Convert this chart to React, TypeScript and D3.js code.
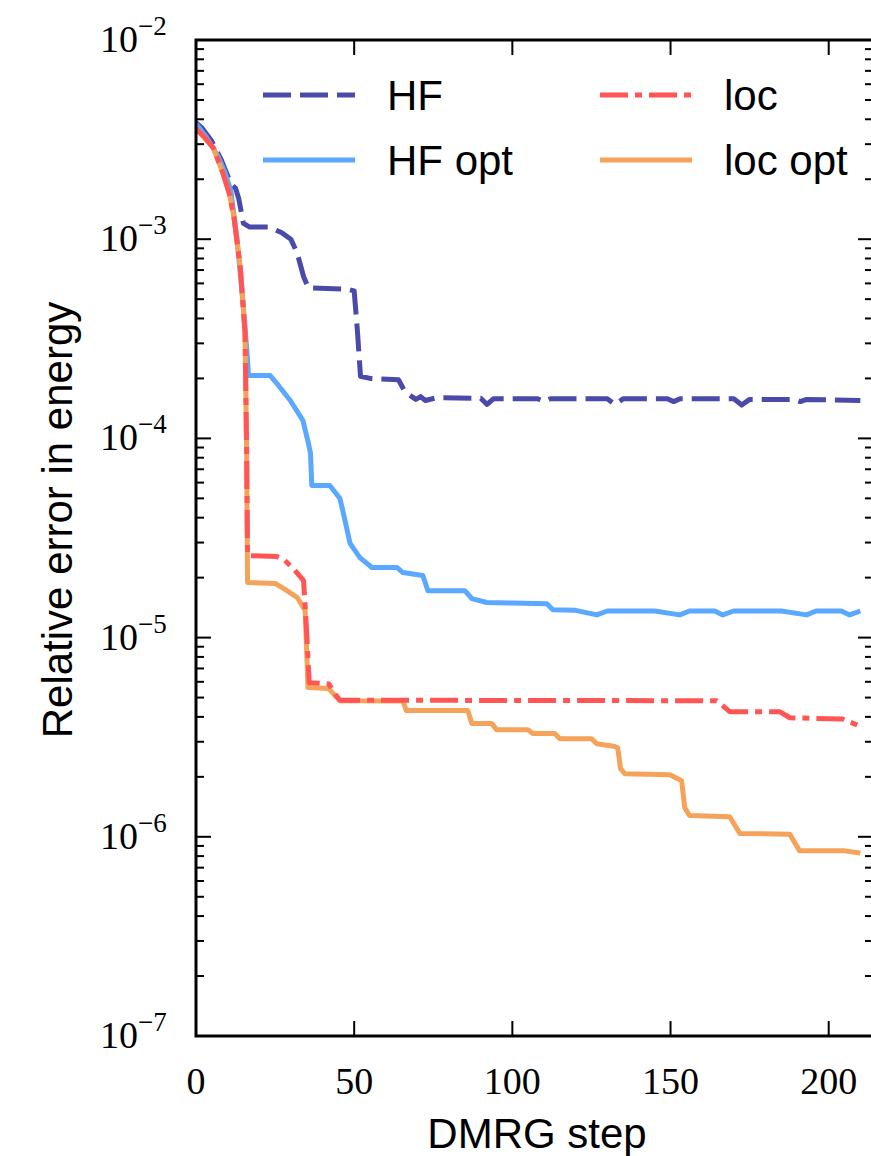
import React from 'react';
import * as d3 from 'd3';

// x range of the figure (right spine is cut off in the picture)
const xMax = 214;

// HF (dashed)
const hfStep = [0, 2, 5, 8, 11, 12.5, 13.5, 15, 17, 23, 27, 30, 32, 34, 35.5, 48, 50, 51, 52, 55, 64, 66, 68, 69.5, 71, 72.5, 76, 90, 92, 94, 108, 110, 112, 130, 132.4, 135, 149, 151, 153, 170, 172.5, 175, 189, 191, 193, 210];
const hfErr = [3.85e-3, 3.6e-3, 3.1e-3, 2.5e-3, 1.9e-3, 1.8e-3, 1.6e-3, 1.2e-3, 1.15e-3, 1.15e-3, 1.08e-3, 1.0e-3, 8.5e-4, 6.5e-4, 5.7e-4, 5.6e-4, 5.5e-4, 3.5e-4, 2.05e-4, 2.0e-4, 1.97e-4, 1.72e-4, 1.63e-4, 1.57e-4, 1.62e-4, 1.55e-4, 1.6e-4, 1.59e-4, 1.48e-4, 1.58e-4, 1.58e-4, 1.53e-4, 1.58e-4, 1.58e-4, 1.48e-4, 1.58e-4, 1.58e-4, 1.53e-4, 1.58e-4, 1.58e-4, 1.47e-4, 1.57e-4, 1.57e-4, 1.53e-4, 1.57e-4, 1.55e-4];

// HF opt (solid light blue)
const hfOptStep = [0, 3, 6.8, 9, 11, 13, 14.8, 16.2, 16.6, 23.4, 26, 29.8, 33.8, 35.5, 36.2, 36.6, 42.3, 45.5, 47.1, 48.7, 51.8, 55.6, 63.5, 65.4, 71.7, 73.3, 85, 87.2, 91.9, 100, 110.9, 112.8, 120, 126.7, 130, 145, 152.9, 156, 164, 166.5, 170, 185, 193, 196, 204, 206.6, 210];
const hfOptErr = [3.8e-3, 3.3e-3, 2.64e-3, 2.2e-3, 1.76e-3, 9.9e-4, 4.93e-4, 2.6e-4, 2.07e-4, 2.07e-4, 1.85e-4, 1.55e-4, 1.23e-4, 9.5e-5, 8.4e-5, 5.8e-5, 5.8e-5, 4.99e-5, 3.87e-5, 2.97e-5, 2.52e-5, 2.25e-5, 2.25e-5, 2.12e-5, 2.05e-5, 1.72e-5, 1.72e-5, 1.57e-5, 1.5e-5, 1.49e-5, 1.48e-5, 1.38e-5, 1.37e-5, 1.3e-5, 1.36e-5, 1.36e-5, 1.3e-5, 1.36e-5, 1.36e-5, 1.3e-5, 1.36e-5, 1.36e-5, 1.3e-5, 1.36e-5, 1.36e-5, 1.3e-5, 1.36e-5];

// loc (dash-dot red)
const locStep = [0, 3, 5.5, 8.5, 10.5, 12, 14, 15.5, 16, 16.3, 25.6, 28, 31, 34, 34.8, 35.8, 42, 44, 45.5, 164.6, 168.7, 184.5, 187.7, 204.4, 209.8];
const locErr = [3.6e-3, 3.2e-3, 2.87e-3, 2.15e-3, 1.7e-3, 1.29e-3, 7.2e-4, 3.4e-4, 8.7e-5, 2.58e-5, 2.55e-5, 2.45e-5, 2.2e-5, 1.93e-5, 1.2e-5, 5.94e-6, 5.85e-6, 5.2e-6, 4.85e-6, 4.82e-6, 4.25e-6, 4.25e-6, 3.96e-6, 3.9e-6, 3.6e-6];

// loc opt (solid orange)
const locOptStep = [0, 3, 5.5, 8.5, 10.5, 12, 14, 15.5, 16, 16.3, 25, 28, 32, 34.5, 35.4, 42, 44, 45.5, 65.4, 66.5, 85.9, 87.2, 93.5, 95, 104.9, 106.5, 113.4, 115, 125, 126.7, 132, 133.3, 134.2, 135.6, 149.8, 153.5, 154.5, 156, 168.7, 171.9, 187.7, 190.8, 205, 210];
const locOptErr = [3.6e-3, 3.2e-3, 2.87e-3, 2.15e-3, 1.7e-3, 1.29e-3, 7.2e-4, 3.4e-4, 8.7e-5, 1.89e-5, 1.87e-5, 1.75e-5, 1.59e-5, 1.37e-5, 5.61e-6, 5.55e-6, 5.1e-6, 4.82e-6, 4.8e-6, 4.3e-6, 4.3e-6, 3.7e-6, 3.7e-6, 3.45e-6, 3.45e-6, 3.3e-6, 3.3e-6, 3.11e-6, 3.11e-6, 2.93e-6, 2.85e-6, 2.8e-6, 2.2e-6, 2.07e-6, 2.05e-6, 1.91e-6, 1.4e-6, 1.28e-6, 1.26e-6, 1.04e-6, 1.03e-6, 8.5e-7, 8.5e-7, 8.3e-7];

const xTicks = [0, 50, 100, 150, 200];
const yDecades = [-7, -6, -5, -4, -3, -2];

const seriesNames = ['HF', 'HF opt', 'loc', 'loc opt'];
const seriesColors = ['#4a4aab', '#5aa8ff', '#ff5555', '#f5a25a'];
const seriesDash = ['28 9', null, '28 7 7 7', null];

const left = 196, right = 873, top = 40, bottom = 1036;

export default function App() {
  const x = d3.scaleLinear().domain([0, xMax]).range([left, right]);
  const y = d3.scaleLog().domain([1e-7, 1e-2]).range([bottom, top]);

  const line = d3.line<[number, number]>()
    .x(d => x(d[0]))
    .y(d => y(d[1]));

  const series = [
    d3.zip(hfStep, hfErr),
    d3.zip(hfOptStep, hfOptErr),
    d3.zip(locStep, locErr),
    d3.zip(locOptStep, locOptErr),
  ];
  const drawOrder = [0, 1, 3, 2];

  const yTicks = y.ticks();
  const isMajor = (v: number) => Math.abs(Math.log10(v) - Math.round(Math.log10(v))) < 1e-6;

  const sans = '"Liberation Sans", Arial, sans-serif';
  const serif = '"Liberation Serif", "Times New Roman", serif';

  return (
    <svg width={871} height={1156} style={{ position: 'absolute', left: 0, top: 0, background: '#fff' }}>
      <defs>
        <clipPath id="plotclip">
          <rect x={left} y={top} width={right - left} height={bottom - top} />
        </clipPath>
      </defs>

      <g clipPath="url(#plotclip)">
        {drawOrder.map(i => (
          <path key={i} d={line(series[i] as [number, number][]) || ''} fill="none"
            stroke={seriesColors[i]} strokeWidth={5}
            strokeDasharray={seriesDash[i] || undefined}
            strokeLinejoin="round" />
        ))}
      </g>

      {/* y ticks, left and right, pointing inward */}
      {yTicks.map((t, i) => {
        const len = isMajor(t) ? 15 : 8;
        return (
          <g key={'yt' + i} stroke="#000" strokeWidth={2}>
            <line x1={left} x2={left + len} y1={y(t)} y2={y(t)} />
            <line x1={right} x2={right - len} y1={y(t)} y2={y(t)} />
          </g>
        );
      })}

      {/* x ticks, bottom and top */}
      {xTicks.map(t => (
        <g key={'xt' + t} stroke="#000" strokeWidth={2}>
          <line x1={x(t)} x2={x(t)} y1={bottom} y2={bottom - 15} />
          <line x1={x(t)} x2={x(t)} y1={top} y2={top + 15} />
        </g>
      ))}

      <rect x={left} y={top} width={right - left} height={bottom - top} fill="none" stroke="#000" strokeWidth={3} />

      {/* y tick labels */}
      {yDecades.map(p => (
        <text key={'yl' + p} x={100} y={y(Math.pow(10, p)) + 12} fontFamily={serif} fontSize={38} fill="#000">
          10
          <tspan dy={-17} fontSize={27}>{'\u2212' + Math.abs(p)}</tspan>
        </text>
      ))}

      {/* x tick labels */}
      {xTicks.map(t => (
        <text key={'xl' + t} x={x(t)} y={1094} textAnchor="middle" fontFamily={serif} fontSize={38} fill="#000">{t}</text>
      ))}

      <text x={537} y={1148} textAnchor="middle" fontFamily={sans} fontSize={42} fill="#000">DMRG step</text>
      <text transform="translate(72,520) rotate(-90)" textAnchor="middle" fontFamily={sans} fontSize={42} fill="#000">Relative error in energy</text>

      {/* legend, two columns */}
      {seriesNames.map((name, i) => {
        const col = Math.floor(i / 2), row = i % 2;
        const lx = col === 0 ? 263 : 600;
        const ly = 95 + row * 65;
        return (
          <g key={name}>
            <line x1={lx} x2={lx + 92} y1={ly} y2={ly} stroke={seriesColors[i]} strokeWidth={5}
              strokeDasharray={seriesDash[i] || undefined} />
            <text x={lx + 124} y={ly + 15} fontFamily={sans} fontSize={42} fill="#000">{name}</text>
          </g>
        );
      })}
    </svg>
  );
}
